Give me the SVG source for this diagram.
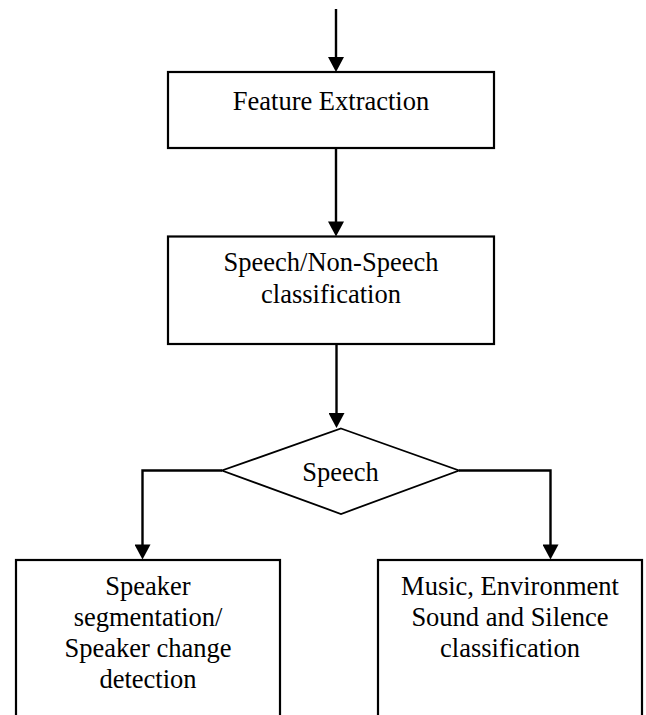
<svg xmlns="http://www.w3.org/2000/svg" width="646" height="715" viewBox="0 0 646 715">
<defs>
<style>
.box{fill:#fff;stroke:#000;stroke-width:2.2}
.dia{fill:#fff;stroke:#000;stroke-width:1.8}
.lbl{font-family:"Liberation Serif","Times New Roman",serif;font-size:26.5px;fill:#000;text-anchor:middle}
.con{fill:none;stroke:#000;stroke-width:2.4}
</style>
<marker id="ah" markerUnits="userSpaceOnUse" markerWidth="16" markerHeight="16" viewBox="0 0 15 16" refX="5" refY="8" orient="auto">
<path d="M0,0 L15,8 L0,16 z" fill="#000"/>
</marker>
</defs>
<rect width="646" height="715" fill="#fff"/>
<g id="connectors">
<path class="con" d="M336,9 V62" marker-end="url(#ah)"/>
<path class="con" d="M336,148 V226.5" marker-end="url(#ah)"/>
<path class="con" d="M336.5,344 V418" marker-end="url(#ah)"/>
<path class="con" d="M222,470.5 H142.5 V549.5" marker-end="url(#ah)"/>
<path class="con" d="M459,470.5 H550.5 V549.5" marker-end="url(#ah)"/>
</g>
<g id="feature-extraction">
<rect class="box" x="168" y="72" width="326" height="76"/>
<text class="lbl" x="331" y="110">Feature Extraction</text>
</g>
<g id="speech-nonspeech">
<rect class="box" x="168" y="236.5" width="326" height="107.5"/>
<text class="lbl" x="331" y="271">Speech/Non-Speech</text>
<text class="lbl" x="331" y="302.5">classification</text>
</g>
<g id="speech-decision">
<polygon class="dia" points="341,428.5 459,470.5 341,514 222,470.5"/>
<text class="lbl" x="340.5" y="481">Speech</text>
</g>
<g id="speaker-segmentation">
<rect class="box" x="16" y="560" width="264" height="170"/>
<text class="lbl" x="148" y="595">Speaker</text>
<text class="lbl" x="148" y="626">segmentation/</text>
<text class="lbl" x="148" y="657">Speaker change</text>
<text class="lbl" x="148" y="688">detection</text>
</g>
<g id="music-environment">
<rect class="box" x="378" y="560" width="264" height="170"/>
<text class="lbl" x="510" y="595">Music, Environment</text>
<text class="lbl" x="510" y="626">Sound and Silence</text>
<text class="lbl" x="510" y="657">classification</text>
</g>
</svg>
